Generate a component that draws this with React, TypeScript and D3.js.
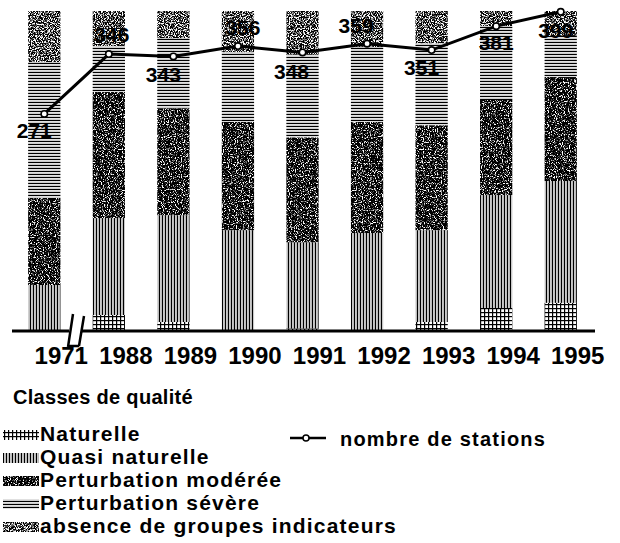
import React from 'react';
import * as d3 from 'd3';

const years = ['1971', '1988', '1989', '1990', '1991', '1992', '1993', '1994', '1995'];
const classKeys = ['nat', 'quasi', 'mod', 'sev', 'abs'];
const classLabels = [
  'Naturelle',
  'Quasi naturelle',
  'Perturbation modérée',
  'Perturbation sévère',
  'absence de groupes indicateurs',
];
const naturelle = [0, 4.7, 2.5, 0, 0.5, 0, 2.5, 6.9, 8.5];
const quasiNaturelle = [14.1, 30.4, 33.5, 31.3, 27, 30.4, 28.8, 35.4, 38.2];
const perturbationModeree = [27.3, 39.5, 33.5, 33.9, 32.9, 34.8, 32.9, 29.8, 32.6];
const perturbationSevere = [42.6, 14.4, 22, 21.9, 26, 23.5, 25.7, 23.2, 12.9];
const absenceGroupes = [16, 11, 8.5, 12.9, 13.6, 11.3, 10.1, 4.7, 7.8];
const stations = [271, 346, 343, 356, 348, 359, 351, 381, 399];
const lineLabel = 'nombre de stations';
const legendTitle = 'Classes de qualité';

// label placement (style only): offset of each value label from its point
const labelDx = [-10, 3, -10, 5, -11, -11, -10, 0, -5];
const labelDy = [24, -12, 26, -11, 27, -11, 25, 24, 26];

const W = 620;
const H = 543;
const FONT = '"Liberation Sans", Arial, sans-serif';

const fills: Record<string, any> = {
  nat: { fill: 'url(#pGrid)' },
  quasi: { fill: 'url(#pVert)' },
  mod: { fill: '#fff', filter: 'url(#speckDark)' },
  sev: { fill: 'url(#pHor)' },
  abs: { fill: '#fff', filter: 'url(#speckMid)' },
};

export default function App() {
  const rows = years.map((y, i) => ({
    year: y,
    nat: naturelle[i],
    quasi: quasiNaturelle[i],
    mod: perturbationModeree[i],
    sev: perturbationSevere[i],
    abs: absenceGroupes[i],
  }));
  const stack = d3.stack<any>().keys(classKeys)(rows);

  const x = d3.scaleBand<string>().domain(years).range([12, 593]).paddingInner(0.5).paddingOuter(0.25);
  const y = d3.scaleLinear().domain([0, 100]).range([330, 11]);
  const y2 = d3.scaleLinear().domain([0, 400]).range([330, 11]);
  const bw = x.bandwidth();
  const cx = (yr: string) => (x(yr) as number) + bw / 2;

  const linePath = d3
    .line<number>()
    .x((_, i) => cx(years[i]))
    .y((v) => y2(v))(stations) as string;

  const legendRowY = [434, 457, 480, 503, 526];

  return (
    <svg width={W} height={H} style={{ position: 'absolute', left: 0, top: 0, background: '#fff' }} fontFamily={FONT}>
      <defs>
        <pattern id="pGrid" width="4" height="4" patternUnits="userSpaceOnUse">
          <rect width="4" height="4" fill="#fff" />
          <rect width="4" height="1.2" fill="#000" />
          <rect width="1.2" height="4" fill="#000" />
        </pattern>
        <pattern id="pVert" width="3" height="6" patternUnits="userSpaceOnUse">
          <rect width="3" height="6" fill="#fff" />
          <rect x="0" width="1" height="6" fill="#000" />
          <rect x="1.6" width="0.9" height="6" fill="#777" />
        </pattern>
        <pattern id="pHor" width="6" height="3" patternUnits="userSpaceOnUse">
          <rect width="6" height="3" fill="#fff" />
          <rect y="0" width="6" height="1" fill="#000" />
          <rect y="1.7" width="6" height="0.8" fill="#999" />
        </pattern>
        <filter id="speckDark" x="0" y="0" width="1" height="1" colorInterpolationFilters="sRGB">
          <feTurbulence type="fractalNoise" baseFrequency="0.85" numOctaves="2" seed="4" result="n" />
          <feColorMatrix in="n" type="matrix" values="6 0 0 0 -3.1  6 0 0 0 -3.1  6 0 0 0 -3.1  0 0 0 0 1" result="g" />
          <feComposite in="g" in2="SourceGraphic" operator="in" />
        </filter>
        <filter id="speckMid" x="0" y="0" width="1" height="1" colorInterpolationFilters="sRGB">
          <feTurbulence type="fractalNoise" baseFrequency="0.85" numOctaves="2" seed="9" result="n" />
          <feColorMatrix in="n" type="matrix" values="6 0 0 0 -2.7  6 0 0 0 -2.7  6 0 0 0 -2.7  0 0 0 0 1" result="g" />
          <feComposite in="g" in2="SourceGraphic" operator="in" />
        </filter>
      </defs>

      {stack.map((layer) => (
        <g key={layer.key}>
          {layer.map((d, i) => {
            const h = y(d[0]) - y(d[1]);
            if (h <= 0) return null;
            return (
              <rect
                key={i}
                x={x(years[i])}
                y={y(d[1])}
                width={bw}
                height={h}
                {...fills[layer.key]}
              />
            );
          })}
        </g>
      ))}

      {/* axis */}
      <line x1={12} x2={595} y1={y(0) + 1} y2={y(0) + 1} stroke="#000" strokeWidth={3} />
      {/* axis break */}
      <rect x={69} y={326} width={12} height={9} fill="#fff" />
      <path d="M73,314 L68,347 M84,316 L79,346 M68,346 L79,346" stroke="#000" strokeWidth={2.5} fill="none" />

      {years.map((yr) => (
        <text
          key={yr}
          x={cx(yr) + 17}
          y={364}
          textAnchor="middle"
          fontSize={24}
          fontWeight="bold"
          fill="#000"
        >
          {yr}
        </text>
      ))}

      {/* line series */}
      <path d={linePath} fill="none" stroke="#000" strokeWidth={3} />
      {stations.map((v, i) => (
        <circle key={i} cx={cx(years[i])} cy={y2(v)} r={3.2} fill="#fff" stroke="#000" strokeWidth={1.6} />
      ))}
      {stations.map((v, i) => (
        <text
          key={'l' + i}
          x={cx(years[i]) + labelDx[i]}
          y={y2(v) + labelDy[i]}
          textAnchor="middle"
          fontSize={21}
          fontWeight="bold"
          fill="#000"
        >
          {v}
        </text>
      ))}

      {/* legend */}
      <text x={13} y={404} fontSize={20} fontWeight="bold" letterSpacing={0.3}>
        {legendTitle}
      </text>
      {classKeys.map((k, j) => (
        <g key={k}>
          <rect x={3} y={legendRowY[j] - 4} width={36} height={10} {...fills[k]} />
          <text x={40} y={legendRowY[j] + 7} fontSize={21} fontWeight="bold" letterSpacing={1.2}>
            {classLabels[j]}
          </text>
        </g>
      ))}
      <line x1={290} x2={326} y1={438} y2={438} stroke="#000" strokeWidth={2.5} />
      <circle cx={306} cy={438} r={3} fill="#fff" stroke="#000" strokeWidth={1.5} />
      <text x={340} y={446} fontSize={20} fontWeight="bold" letterSpacing={1.2}>
        {lineLabel}
      </text>
    </svg>
  );
}
